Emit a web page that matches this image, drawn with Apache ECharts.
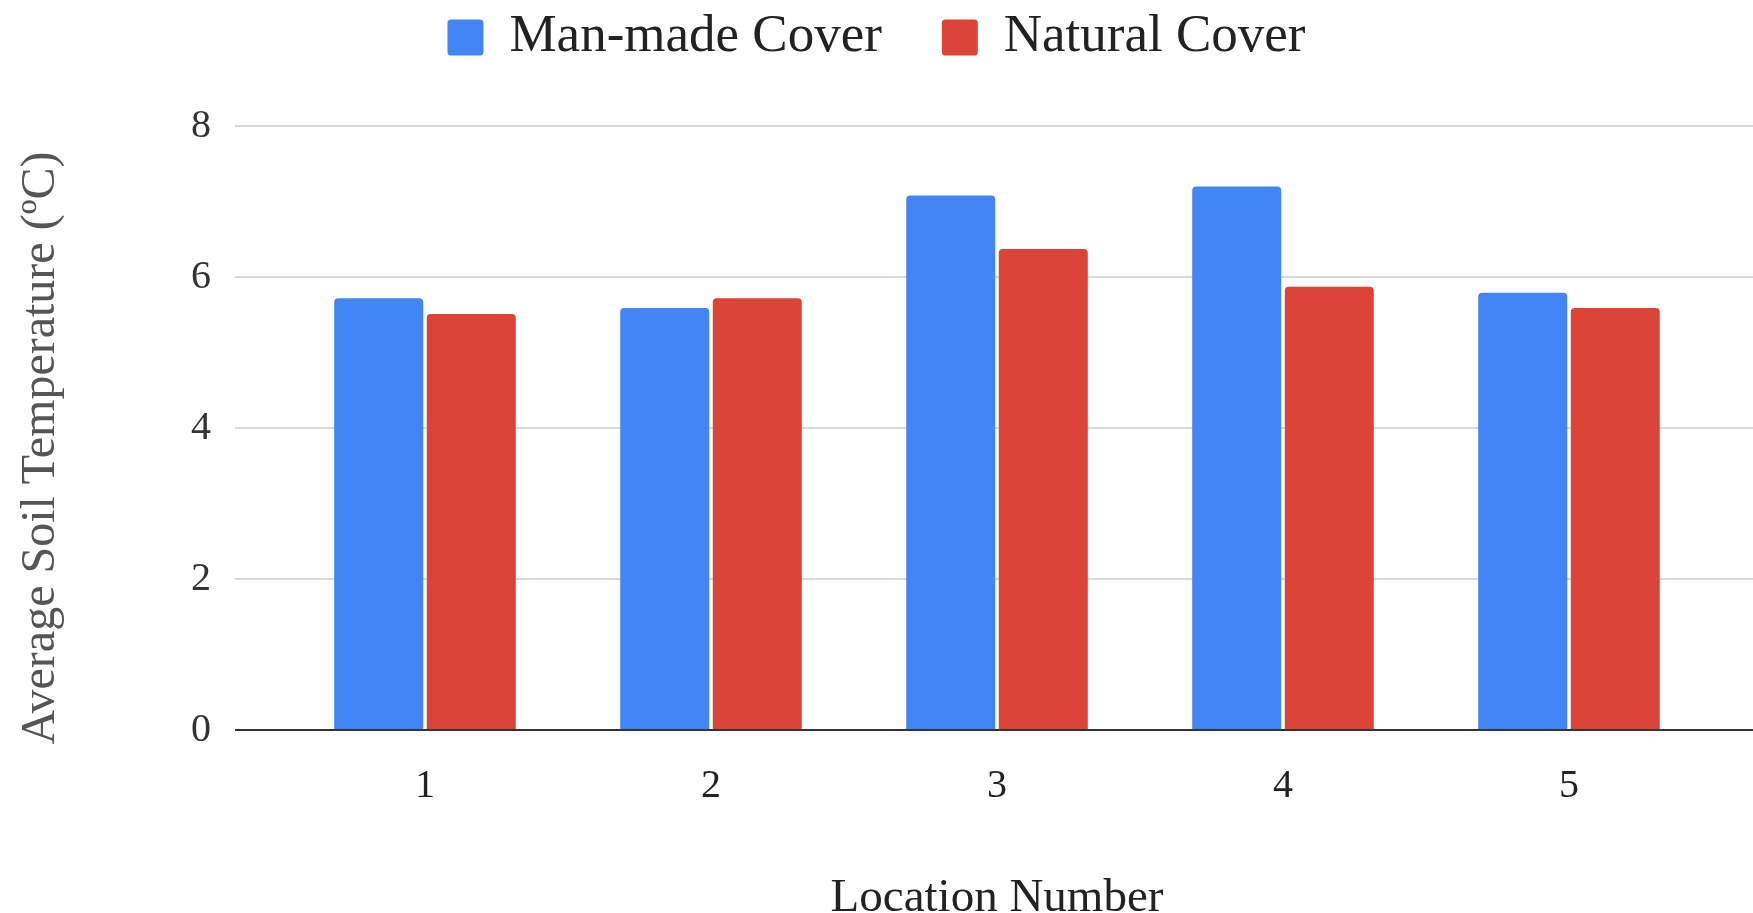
<!DOCTYPE html>
<html>
<head>
<meta charset="utf-8">
<script src="https://cdn.jsdelivr.net/npm/echarts@6/dist/echarts.min.js"></script>
<style>
  html, body { margin: 0; padding: 0; background: #fff; }
  #chart { width: 1753px; height: 913px; }
</style>
</head>
<body>
<div id="chart"></div>
<script>
var locations = ['1', '2', '3', '4', '5'];
var manMade = [5.72, 5.59, 7.08, 7.20, 5.79];
var natural = [5.51, 5.72, 6.37, 5.87, 5.59];
var yTicks = [0, 2, 4, 6, 8];

var font = '"Liberation Serif", "DejaVu Serif", serif';
var myChart = echarts.init(document.getElementById('chart'));

var option = {
    animation: false,
    textStyle: { fontFamily: font },
    legend: {
        data: ['Man-made Cover', 'Natural Cover'],
        top: 6,
        left: 'center',
        itemWidth: 38,
        itemHeight: 36,
        itemGap: 60,
        selectedMode: false,
        icon: 'path://M2,0 L18,0 Q20,0 20,2 L20,18 Q20,20 18,20 L2,20 Q0,20 0,18 L0,2 Q0,0 2,0 Z',
        textStyle: { fontFamily: font, fontSize: 53, color: '#222', padding: [0, 0, 0, 20] }
    },
    // grid 0 only draws the gridlines and y labels (they run wider than the bars)
    // grid 1 holds the bars
    grid: [
        { left: 235, right: 0, top: 126, bottom: 183, outerBoundsMode: 'none', containLabel: false },
        { left: 282, right: 41, top: 126, bottom: 183, outerBoundsMode: 'none', containLabel: false }
    ],
    xAxis: [
        { gridIndex: 0, type: 'category', data: locations, show: false },
        {
            gridIndex: 1,
            type: 'category',
            data: locations,
            name: 'Location Number',
            nameLocation: 'middle',
            nameGap: 145,
            nameTextStyle: { fontFamily: font, fontSize: 47, color: '#222' },
            axisLine: { show: false },
            axisTick: { show: false },
            axisLabel: { fontFamily: font, fontSize: 40, color: '#222', margin: 36 }
        }
    ],
    yAxis: [
        {
            gridIndex: 0,
            type: 'value',
            min: 0,
            max: 8,
            interval: 2,
            name: 'Average Soil Temperature (ºC)',
            nameLocation: 'middle',
            nameGap: 170,
            nameTextStyle: { fontFamily: font, fontSize: 48, color: '#555', padding: [0, 40, 0, 0] },
            axisLine: { show: false },
            axisTick: { show: false },
            axisLabel: {
                fontFamily: font, fontSize: 40, color: '#333', margin: 24,
                formatter: function (v) { return yTicks.indexOf(v) >= 0 ? String(v) : ''; }
            },
            splitLine: { lineStyle: { color: '#cccccc', width: 1.5 } }
        },
        { gridIndex: 1, type: 'value', min: 0, max: 8, interval: 2, show: false, splitLine: { show: false } }
    ],
    series: [
        {
            name: 'Man-made Cover',
            type: 'bar',
            xAxisIndex: 1,
            yAxisIndex: 1,
            data: manMade,
            barWidth: 89,
            barGap: '4%',
            itemStyle: { color: '#4285F4', borderRadius: [4, 4, 0, 0] }
        },
        {
            name: 'Natural Cover',
            type: 'bar',
            xAxisIndex: 1,
            yAxisIndex: 1,
            data: natural,
            barWidth: 89,
            barGap: '4%',
            itemStyle: { color: '#DB4437', borderRadius: [4, 4, 0, 0] },
            // baseline drawn across the full background width
            markLine: {
                silent: true,
                symbol: 'none',
                label: { show: false },
                lineStyle: { color: '#333', width: 2, type: 'solid' },
                data: [[{ x: 235, yAxis: 0 }, { x: 1753, yAxis: 0 }]]
            }
        }
    ]
};
myChart.setOption(option);
</script>
</body>
</html>
